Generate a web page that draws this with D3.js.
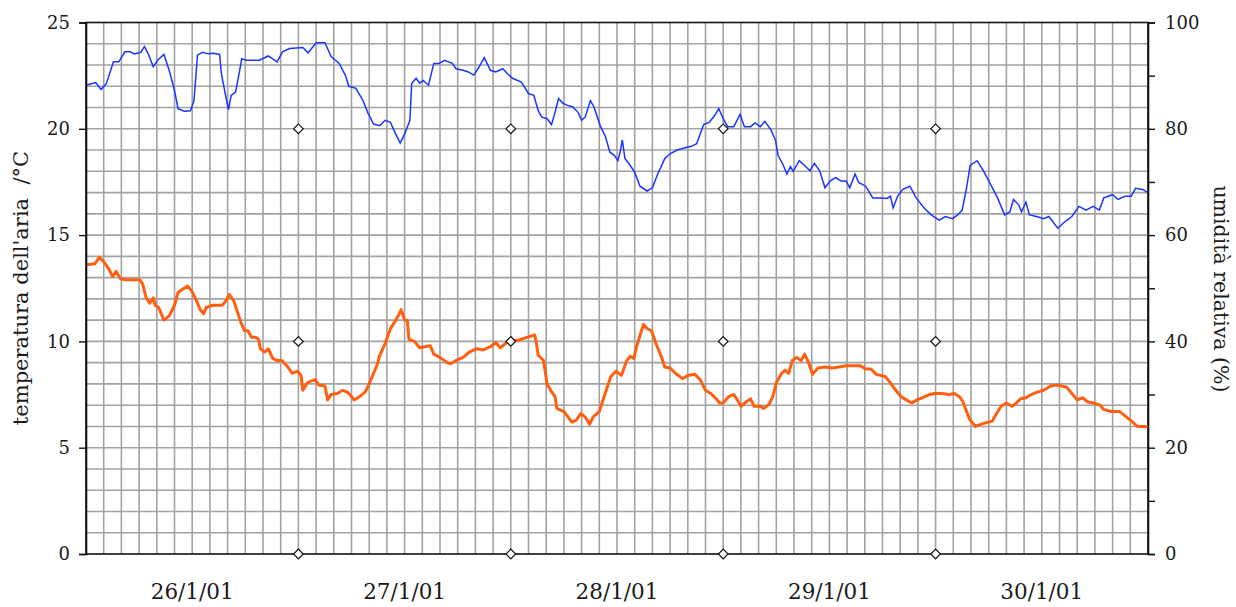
<!DOCTYPE html>
<html>
<head>
<meta charset="utf-8">
<script src="https://cdn.jsdelivr.net/npm/d3@7"></script>
<style>
  body { margin: 0; background: #fff; }
  text { font-family: "DejaVu Serif", serif; fill: #1a1a1a; }
</style>
</head>
<body>
<svg id="chart" width="1236" height="607"></svg>
<script>
// hours since 26/1/01 00:00
const humidityHours = [0, 1.1, 1.7, 2.3, 3.1, 3.7, 4.4, 5.0, 5.5, 6.2, 6.6, 7.0, 7.6, 8.1, 8.8, 9.4, 10.0, 10.4, 11.1, 11.8,
  12.2, 12.6, 13.2, 13.8, 14.4, 15.1, 15.3, 15.7, 16.1, 16.4, 16.9, 17.3, 17.6, 18.1, 19.6, 20.6, 21.6, 22.2, 23.0, 24.5,
  25.1, 26.0, 27.0, 27.7, 28.6, 29.3, 29.7, 30.5, 31.3, 31.9, 32.5, 33.2, 33.8, 34.4, 35.0, 35.5, 36.0, 36.6, 36.8, 37.3,
  37.7, 38.1, 38.7, 39.3, 39.9, 40.5, 41.4, 41.8, 42.6, 43.2, 43.8, 44.3, 45.0, 45.7, 46.3, 47.1, 47.6, 48.2, 49.2, 50.0,
  50.6, 51.1, 51.5, 52.1, 52.6, 52.9, 53.4, 53.9, 54.4, 55.0, 55.6, 56.0, 56.4, 57.0, 57.4, 58.1, 58.7, 59.2, 59.7, 60.1,
  60.4, 60.6, 60.9, 61.5, 62.0, 62.6, 63.4, 64.0, 64.6, 65.4, 66.0, 66.8, 67.6, 68.4, 69.0, 69.8, 70.4, 71.0, 71.5, 72.0,
  72.5, 73.2, 73.9, 74.4, 75.1, 75.6, 76.2, 76.7, 77.4, 77.9, 78.2, 78.8, 79.2, 79.6, 79.9, 80.6, 81.2, 81.8, 82.3, 82.9,
  83.5, 84.1, 84.7, 85.3, 85.9, 86.3, 86.9, 87.3, 88.1, 88.9, 89.7, 90.5, 90.9, 91.2, 91.7, 92.3, 93.1, 93.8, 94.7, 95.5,
  96.4, 97.1, 97.9, 98.5, 99.0, 99.5, 99.9, 100.7, 101.5, 102.2, 103.0, 103.8, 104.4, 104.8, 105.4, 105.7, 106.2, 106.6, 107.4, 108.2,
  108.8, 109.8, 110.6, 111.4, 112.2, 113.0, 113.8, 114.5, 115.0, 116.0, 116.6, 117.4, 118.1, 118.6, 119.4, 120.0]
const humidityValues = [88.2, 88.7, 87.4, 88.5, 92.6, 92.6, 94.5, 94.5, 94.1, 94.4, 95.5, 94.2, 91.7, 92.9, 94.0, 91.0, 87.2, 83.8, 83.3, 83.4,
  85.3, 93.9, 94.4, 94.1, 94.2, 94.0, 90.4, 86.9, 83.6, 86.3, 86.9, 90.4, 93.2, 92.9, 92.9, 93.7, 92.6, 94.5, 95.1, 95.3,
  94.3, 96.2, 96.2, 93.6, 92.3, 90.1, 88.0, 87.6, 85.3, 82.8, 80.9, 80.6, 81.6, 81.2, 79.0, 77.3, 79.0, 81.6, 88.5, 89.5,
  88.6, 89.1, 88.2, 92.3, 92.3, 92.9, 92.3, 91.3, 91.0, 90.7, 90.1, 91.3, 93.4, 91.0, 90.7, 91.3, 90.4, 89.5, 88.8, 86.6,
  86.3, 83.4, 82.2, 81.9, 80.8, 82.5, 85.7, 84.8, 84.4, 84.1, 83.1, 81.6, 82.2, 85.3, 84.1, 80.6, 78.5, 75.6, 75.0, 74.0,
  76.0, 77.9, 74.4, 73.1, 71.8, 69.2, 68.3, 68.9, 71.5, 74.4, 75.3, 76.0, 76.4, 76.7, 77.2, 80.8, 81.2, 82.4, 83.8, 81.9,
  80.4, 80.4, 82.7, 80.4, 80.4, 81.1, 80.4, 81.4, 79.8, 77.9, 75.0, 73.1, 71.5, 72.9, 72.0, 74.0, 73.1, 72.1, 73.5, 72.1,
  68.9, 70.2, 70.8, 70.2, 70.2, 68.9, 71.5, 69.9, 69.2, 67.0, 67.0, 66.9, 67.3, 65.1, 67.3, 68.6, 69.2, 67.0, 65.1, 63.8,
  62.8, 63.5, 63.1, 63.8, 64.7, 68.9, 73.1, 74.0, 71.8, 69.6, 67.0, 63.8, 64.4, 66.7, 65.7, 64.4, 66.2, 63.8, 63.5, 63.1,
  63.5, 61.3, 62.5, 63.5, 65.4, 64.7, 65.4, 64.7, 67.0, 67.6, 66.7, 67.3, 67.3, 68.8, 68.6, 68.0]

const temperatureHours = [0, 1.0, 1.5, 2.0, 2.6, 3.0, 3.4, 3.9, 4.5, 6.1, 6.4, 6.8, 7.2, 7.6, 7.8, 8.2, 8.8, 9.4, 10.0, 10.4,
  10.9, 11.5, 11.9, 12.4, 12.9, 13.3, 13.6, 14.3, 15.4, 15.8, 16.2, 16.7, 17.1, 17.5, 17.9, 18.3, 18.7, 19.1, 19.5, 19.7,
  20.2, 20.6, 21.1, 21.6, 22.1, 22.8, 23.3, 23.9, 24.3, 24.5, 25.0, 25.5, 25.9, 26.3, 27.0, 27.3, 27.7, 28.4, 29.0, 29.6,
  30.3, 30.9, 31.5, 31.9, 32.3, 32.9, 33.2, 33.8, 34.4, 35.0, 35.4, 35.6, 36.0, 36.3, 36.5, 37.1, 37.7, 38.3, 38.9, 39.3,
  40.0, 40.8, 41.2, 41.8, 42.6, 43.3, 44.1, 44.9, 45.7, 46.3, 46.8, 47.4, 48.0, 48.8, 49.9, 50.7, 50.9, 51.1, 51.7, 52.1,
  52.5, 53.0, 53.2, 54.0, 54.9, 55.4, 55.9, 56.4, 56.9, 57.3, 58.0, 58.5, 58.9, 59.3, 59.9, 60.5, 61.1, 61.5, 61.9, 62.2,
  62.8, 63.0, 63.4, 63.9, 64.4, 65.0, 65.4, 66.0, 66.6, 67.4, 68.0, 68.8, 69.4, 70.0, 70.6, 71.2, 71.6, 72.0, 72.6, 73.2,
  73.6, 74.0, 74.6, 75.1, 75.5, 76.2, 76.6, 77.2, 77.6, 78.0, 78.6, 79.0, 79.4, 79.8, 80.3, 80.8, 81.2, 81.6, 82.1, 82.7,
  83.5, 84.3, 85.1, 85.9, 86.7, 87.5, 88.1, 88.7, 89.3, 90.3, 90.9, 91.5, 92.1, 92.7, 93.3, 93.9, 94.5, 95.3, 95.9, 96.7,
  97.5, 98.1, 98.7, 99.1, 99.5, 99.9, 100.5, 101.1, 101.9, 102.4, 102.8, 103.4, 104.0, 104.6, 105.0, 105.6, 106.2, 106.8, 107.4, 108.2,
  109.0, 109.6, 110.2, 110.8, 111.4, 112.0, 112.6, 113.2, 113.8, 114.6, 115.0, 115.8, 116.8, 117.4, 118.0, 118.8, 120.0]
const temperatureValues = [13.6, 13.65, 13.95, 13.75, 13.4, 13.05, 13.3, 12.95, 12.9, 12.9, 12.7, 12.05, 11.8, 12.05, 11.7, 11.6, 11.0, 11.2, 11.7, 12.3,
  12.45, 12.6, 12.4, 12.0, 11.5, 11.3, 11.6, 11.7, 11.7, 11.9, 12.2, 11.9, 11.4, 10.9, 10.5, 10.5, 10.2, 10.2, 10.1, 9.65,
  9.5, 9.65, 9.2, 9.1, 9.1, 8.8, 8.5, 8.6, 8.4, 7.7, 8.05, 8.15, 8.2, 7.95, 7.9, 7.25, 7.5, 7.55, 7.7, 7.6,
  7.25, 7.4, 7.6, 7.9, 8.3, 8.9, 9.35, 9.9, 10.6, 11.0, 11.3, 11.5, 11.0, 11.0, 10.1, 10.0, 9.7, 9.75, 9.8, 9.4,
  9.25, 9.0, 8.95, 9.1, 9.25, 9.5, 9.65, 9.6, 9.75, 9.95, 9.7, 9.9, 10.05, 10.05, 10.2, 10.3, 9.9, 9.35, 9.1, 8.0,
  7.7, 7.4, 6.85, 6.7, 6.2, 6.3, 6.6, 6.45, 6.1, 6.45, 6.7, 7.35, 7.85, 8.35, 8.6, 8.4, 9.1, 9.3, 9.2, 9.75,
  10.55, 10.8, 10.6, 10.5, 9.9, 9.3, 8.8, 8.75, 8.5, 8.25, 8.4, 8.45, 8.2, 7.7, 7.55, 7.3, 7.1, 7.1, 7.4, 7.5,
  7.25, 6.95, 7.15, 7.3, 6.95, 6.95, 6.85, 7.05, 7.4, 8.05, 8.5, 8.65, 8.5, 9.1, 9.25, 9.1, 9.4, 9.05, 8.45, 8.75,
  8.8, 8.75, 8.8, 8.85, 8.85, 8.85, 8.7, 8.7, 8.45, 8.35, 8.05, 7.7, 7.4, 7.25, 7.1, 7.25, 7.35, 7.5, 7.55, 7.55,
  7.5, 7.55, 7.4, 7.15, 6.7, 6.3, 6.0, 6.1, 6.2, 6.25, 6.55, 6.95, 7.1, 6.95, 7.05, 7.3, 7.35, 7.5, 7.6, 7.7,
  7.9, 7.95, 7.9, 7.85, 7.55, 7.25, 7.35, 7.15, 7.1, 7.0, 6.8, 6.7, 6.7, 6.5, 6.3, 6.0, 6.0]

const dayLabels = ['26/1/01', '27/1/01', '28/1/01', '29/1/01', '30/1/01']
const tempTicks = [0, 5, 10, 15, 20, 25]
const humTicks = [0, 10, 20, 30, 40, 50, 60, 70, 80, 90, 100]
const markerHours = [24, 48, 72, 96]
const markerTemps = [0, 10, 20]

const svg = d3.select('#chart')
const plotLeft = 86, plotRight = 1148, plotTop = 22.5, plotBottom = 554

const x = d3.scaleLinear().domain([0, 120]).range([plotLeft, plotRight])
const yT = d3.scaleLinear().domain([0, 25]).range([plotBottom, plotTop])
const yH = d3.scaleLinear().domain([0, 100]).range([plotBottom, plotTop])

// grid: every 2 hours, every 1 degree
const grid = svg.append('g').attr('stroke', '#a2a2a2').attr('stroke-width', 1.6)
grid.selectAll('line.v')
  .data(d3.range(2, 120, 2))
  .join('line')
    .attr('class', 'v')
    .attr('x1', d => x(d)).attr('x2', d => x(d))
    .attr('y1', plotTop).attr('y2', plotBottom)
grid.selectAll('line.h')
  .data(d3.range(1, 25, 1))
  .join('line')
    .attr('class', 'h')
    .attr('x1', plotLeft).attr('x2', plotRight)
    .attr('y1', d => yT(d)).attr('y2', d => yT(d))

// frame
svg.append('rect')
  .attr('x', plotLeft).attr('y', plotTop)
  .attr('width', plotRight - plotLeft).attr('height', plotBottom - plotTop)
  .attr('fill', 'none').attr('stroke', '#111').attr('stroke-width', 1.6)

const humData = humidityHours.map((h, i) => [h, humidityValues[i]])
const tempData = temperatureHours.map((h, i) => [h, temperatureValues[i]])

svg.append('path')
  .datum(tempData)
  .attr('fill', 'none')
  .attr('stroke', '#ff5f0f')
  .attr('stroke-width', 3)
  .attr('stroke-linejoin', 'round')
  .attr('d', d3.line().x(d => x(d[0])).y(d => yT(d[1])))

svg.append('path')
  .datum(humData)
  .attr('fill', 'none')
  .attr('stroke', '#1a35ff')
  .attr('stroke-width', 1.5)
  .attr('d', d3.line().x(d => x(d[0])).y(d => yH(d[1])))

// diamonds at midnight
const diamond = d3.symbol().type(d3.symbolSquare).size(46)
svg.append('g').selectAll('path')
  .data(d3.cross(markerHours, markerTemps))
  .join('path')
    .attr('d', diamond)
    .attr('transform', d => `translate(${x(d[0])},${yT(d[1])}) rotate(45)`)
    .attr('fill', '#fff')
    .attr('stroke', '#111')
    .attr('stroke-width', 1.2)

// axes
const leftAxis = svg.append('g')
  .attr('transform', `translate(${plotLeft},0)`)
  .call(d3.axisLeft(yT).tickValues(tempTicks).tickSize(7).tickPadding(9).tickFormat(d3.format('d')))
const rightAxis = svg.append('g')
  .attr('transform', `translate(${plotRight},0)`)
  .call(d3.axisRight(yH).tickValues(humTicks).tickSize(7).tickPadding(10)
    .tickFormat(d => d % 20 === 0 ? d : ''))
;[leftAxis, rightAxis].forEach(a => {
  a.select('.domain').attr('stroke', '#111').attr('stroke-width', 1.6)
  a.selectAll('.tick line').attr('stroke', '#111').attr('stroke-width', 1.4)
  a.selectAll('.tick text').attr('font-family', '"DejaVu Serif", serif').attr('font-size', 18).attr('fill', '#1a1a1a')
})

svg.append('g').selectAll('text')
  .data(dayLabels)
  .join('text')
    .attr('x', (d, i) => x(12 + 24 * i))
    .attr('y', 599)
    .attr('text-anchor', 'middle')
    .attr('font-size', 21.5)
    .text(d => d)

svg.append('text')
  .attr('transform', `translate(28,288) rotate(-90)`)
  .attr('text-anchor', 'middle')
  .attr('font-size', 21)
  .attr('xml:space', 'preserve')
  .text("temperatura dell'aria  /°C")

svg.append('text')
  .attr('transform', `translate(1214,289) rotate(90)`)
  .attr('text-anchor', 'middle')
  .attr('font-size', 20.5)
  .text('umidità relativa (%)')
</script>
</body>
</html>
